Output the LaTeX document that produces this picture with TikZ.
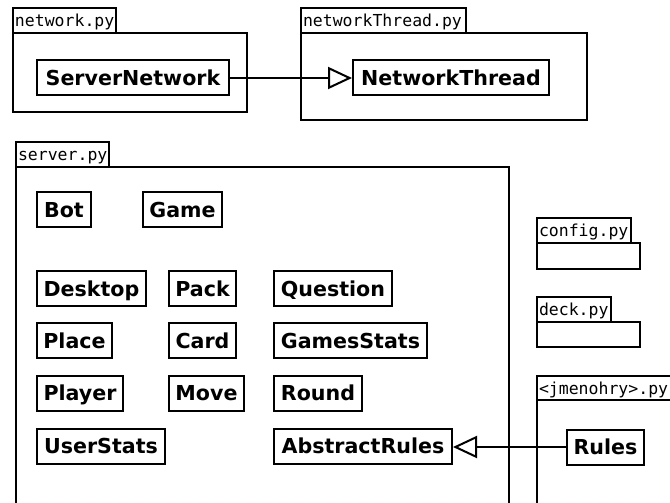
\documentclass[tikz,border=0pt]{standalone}
\usepackage{fontspec}
\setmainfont{DejaVu Sans}
\setmonofont{DejaVu Sans Mono}
\usetikzlibrary{arrows.meta}

\begin{document}
\begin{tikzpicture}[x=1pt,y=-1pt,line width=2pt,
    cls/.style={draw, minimum width=#1, minimum height=35pt, inner sep=0pt,
      font=\bfseries\fontsize{20.6}{24}\selectfont, text height=15pt, text depth=0pt},
    pkg/.style={anchor=base west, inner sep=0pt, font=\ttfamily\fontsize{16.5}{20}\selectfont},
    inherits/.style={-{Triangle[open,length=24pt,width=22pt]}}]
        \clip (0,0) rectangle (670,503);
        % packages
        \draw (13,8) rectangle (116,33) (13,33) rectangle (247,112);
        \draw (301,8) rectangle (466,33) (301,33) rectangle (587,120);
        \draw (16,142) rectangle (109,167) (16,167) rectangle (509,520);
        \draw (537,218) rectangle (631,243) (537,243) rectangle (640,269);
        \draw (537,297) rectangle (611,322) (537,322) rectangle (640,347);
        \draw (537,376) rectangle (690,400) (537,400) rectangle (690,520);
        \node[pkg](netpy) at (14,26.5) {network.py};
        \node[pkg](threadpy) at (302,26.5) {networkThread.py};
        \node[pkg](serverpy) at (17,160.5) {server.py};
        \node[pkg](configpy) at (538,236.5) {config.py};
        \node[pkg](deckpy) at (538,315.5) {deck.py};
        \node[pkg](rulespy) at (538,394) {<jmenohry>.py};
        % classes
        \node[cls=192](servernet) at (133,78) {ServerNetwork};
        \node[cls=196](netthread) at (451,78) {NetworkThread};
        \node[cls=54](bot) at (64,209.5) {Bot};
        \node[cls=79](game) at (182.5,209.5) {Game};
        \node[cls=109](desktop) at (91.5,288.5) {Desktop};
        \node[cls=67](pack) at (202.5,288.5) {Pack};
        \node[cls=118](question) at (333,288.5) {Question};
        \node[cls=75](place) at (74.5,340.5) {Place};
        \node[cls=67](card) at (202.5,340.5) {Card};
        \node[cls=153](gamesstats) at (350.5,340.5) {GamesStats};
        \node[cls=86](player) at (80,393) {Player};
        \node[cls=75](move) at (206.5,393) {Move};
        \node[cls=88](round) at (318,393) {Round};
        \node[cls=128](userstats) at (101,446) {UserStats};
        \node[cls=178](abstractrules) at (363,446) {AbstractRules};
        \node[cls=77](rules) at (605.5,447) {Rules};
        \draw[inherits](servernet)--(netthread);
        \draw[inherits](rules.west)--(rules.west -| abstractrules.east);
\end{tikzpicture}
\end{document}
